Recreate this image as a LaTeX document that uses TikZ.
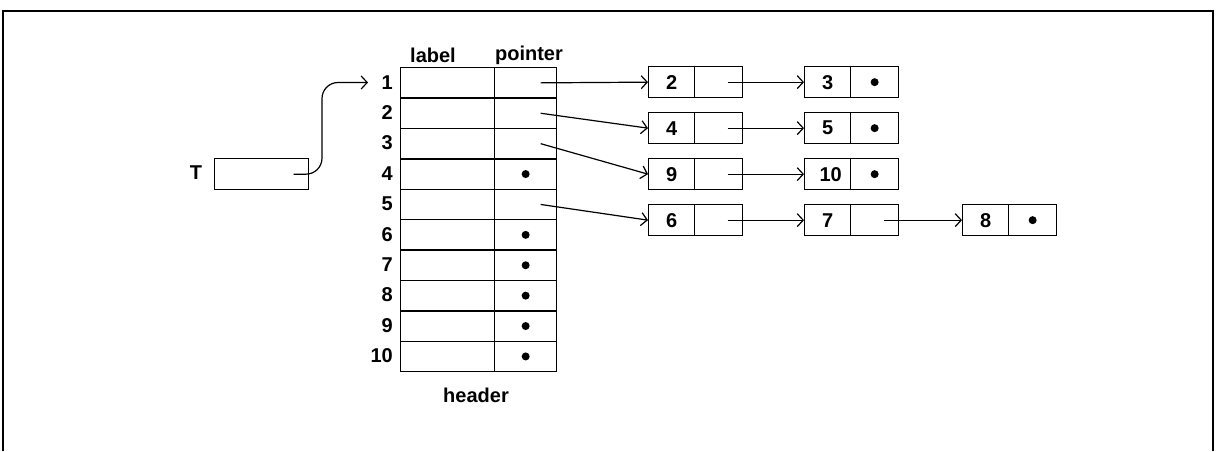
\documentclass[tikz,border=0pt]{standalone}
\usepackage{fontspec}
\setmainfont{Liberation Sans}
\usetikzlibrary{arrows.meta,calc}
\begin{document}
\begin{tikzpicture}[x=1pt,y=-1pt,
  every node/.style={font=\fontsize{20}{24}\selectfont\bfseries},
  cell/.style={draw,line width=1.3pt,inner sep=0pt,minimum height=30.4pt,anchor=north west},
  labcell/.style={cell,minimum width=94pt},
  ptrcell/.style={cell,minimum width=62pt},
  keycell/.style={cell,minimum width=46pt,minimum height=31pt},
  nextcell/.style={cell,minimum width=48pt,minimum height=31pt},
  nil/.style={fill,circle,inner sep=0pt,minimum size=8pt},
  link/.style={line width=1.2pt,-{Straight Barb[length=6pt,width=13pt,line width=1.2pt]}},
  rownum/.style={anchor=east,inner sep=0pt}]
\useasboundingbox (0,0) rectangle (1218,451);
% open frame
\draw[line width=1.6pt] (3,451) -- (3,11) -- (1213,11) -- (1213,451);

% header table
\node at (433,55) {label};
\node at (529,55) {pointer};
\foreach \i in {1,...,10}{
  \node[labcell] (l\i) at (400,{67+(\i-1)*30.4}) {};
  \node[ptrcell] (p\i) at (494,{67+(\i-1)*30.4}) {};
  \node[rownum] (r\i) at (393,{82.2+(\i-1)*30.4}) {\i};
}
\node at (476,395) {header};
\foreach \i in {4,6,7,8,9,10}{ \node[nil] at (p\i.center) {}; }

% T variable
\node[anchor=north west,draw,line width=1.3pt,inner sep=0pt,minimum width=94pt,minimum height=31pt] (t) at (214,158) {};
\node (tl) at (196,173) {T};
\coordinate (ts) at ($(t.center)+(32,0)$);
\coordinate (tin) at (368,82.5);
\coordinate (tbend) at (322,82.5);
\draw[link,rounded corners=16pt] (ts) -| (tbend) -- (tin);

% linked list cells
\node[keycell] (k2) at (648,66) {2};   \node[nextcell] (n2) at (694,66) {};
\node[keycell] (k3) at (804,66) {3};   \node[nextcell] (n3) at (850,66) {};
\node[keycell] (k4) at (648,112) {4};  \node[nextcell] (n4) at (694,112) {};
\node[keycell] (k5) at (804,112) {5};  \node[nextcell] (n5) at (850,112) {};
\node[keycell] (k9) at (648,158) {9};  \node[nextcell] (n9) at (694,158) {};
\node[keycell] (k10) at (804,158) {\hspace*{6pt}10}; \node[nextcell] (n10) at (850,158) {};
\node[keycell] (k6) at (648,204) {6};  \node[nextcell] (n6) at (694,204) {};
\node[keycell] (k7) at (804,204) {7};  \node[nextcell] (n7) at (850,204) {};
\node[keycell] (k8) at (962,204) {8};  \node[nextcell] (n8) at (1008,204) {};
\foreach \n in {n3,n5,n10,n8}{ \node[nil] at (\n.center) {}; }

% pointers out of the header
\foreach \i/\k in {1/k2,2/k4,3/k9,5/k6}{
  \coordinate (s\i) at ($(p\i.center)+(15,0)$);
  \draw[link] (s\i) -- (\k.west);
}
% pointers along the lists
\foreach \a/\b in {n2/k3,n4/k5,n9/k10,n6/k7,n7/k8}{
  \coordinate (s\a) at ($(\a.center)+(9,0)$);
  \draw[link] (s\a) -- (\b.west);
}
\end{tikzpicture}
\end{document}
